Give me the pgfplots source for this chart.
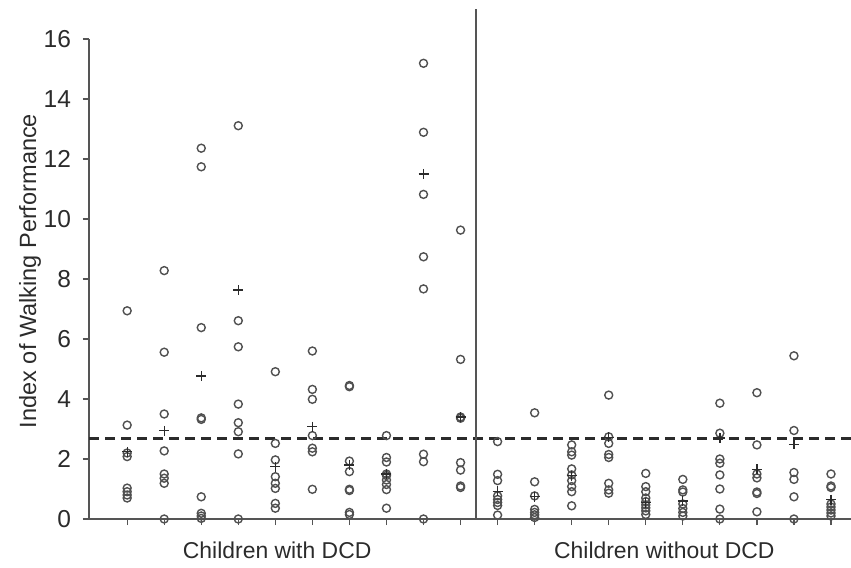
\documentclass[border=0pt]{standalone}
\usepackage{pgfplots}
\pgfplotsset{compat=1.18}
\usepackage{fontspec}
\setmainfont{Liberation Sans}
\definecolor{txt}{HTML}{2B2B2B}
\definecolor{axc}{HTML}{555555}
\definecolor{mk}{HTML}{505050}
\newcommand{\lblfont}{\fontsize{11.5}{13}\selectfont}
\newcommand{\tickfont}{\fontsize{12.3}{14}\selectfont}
\begin{document}
\begin{tikzpicture}
\begin{axis}[name=ax, scale only axis, width=381bp, height=240bp,
  xmin=-0.03, xmax=20.54, ymin=0, ymax=16,
  axis lines=left, axis line style={axc, line width=1bp, -},
  clip=false,
  xtick={1,...,20}, xticklabels={},
  ytick={0,2,...,16},
  tick align=outside, major tick length=3bp,
  tick style={axc, line width=0.6bp},
  yticklabel style={font=\tickfont, text=txt, xshift=-2.5bp},
  /pgf/number format/assume math mode=true,
  ylabel={Index of Walking Performance},
  ylabel style={font=\fontsize{11.8}{13}\selectfont, text=txt, at={(rel axis cs:0,0.5)}, anchor=center, yshift=29.5bp, xshift=4bp},
]
% dashed reference line
\addplot[txt, line width=1.5bp, dash pattern=on 5bp off 3bp, forget plot] coordinates {(-0.03,2.7) (20.54,2.7)};
% divider
\addplot[axc, line width=1bp, forget plot] coordinates {(10.43,0) (10.43,17)};
% individual values
\addplot[only marks, mark=o, mark size=2bp, mark options={mk, line width=0.7bp}] coordinates {
(1,6.94) (1,3.13) (1,2.2) (1,2.08) (1,1.03) (1,0.91) (1,0.8) (1,0.7)
(2,8.28) (2,5.56) (2,3.5) (2,2.27) (2,1.5) (2,1.36) (2,1.19) (2,0)
(3,12.36) (3,11.74) (3,6.38) (3,3.37) (3,3.32) (3,0.74) (3,0.19) (3,0.1) (3,0.02)
(4,13.11) (4,6.61) (4,5.74) (4,3.83) (4,3.21) (4,2.91) (4,2.17) (4,0)
(5,4.91) (5,2.52) (5,1.97) (5,1.41) (5,1.19) (5,1.02) (5,0.52) (5,0.36)
(6,5.6) (6,4.32) (6,3.99) (6,2.78) (6,2.36) (6,2.24) (6,0.99)
(7,4.45) (7,4.41) (7,1.93) (7,1.58) (7,0.99) (7,0.95) (7,0.22) (7,0.15)
(8,2.78) (8,2.05) (8,1.9) (8,1.5) (8,1.45) (8,1.3) (8,1.15) (8,0.98) (8,0.36)
(9,15.19) (9,12.89) (9,10.82) (9,8.74) (9,7.67) (9,2.16) (9,1.91) (9,0)
(10,9.63) (10,5.32) (10,3.4) (10,3.36) (10,1.88) (10,1.63) (10,1.1) (10,1.05)
(11,2.58) (11,1.49) (11,1.28) (11,0.77) (11,0.65) (11,0.55) (11,0.45) (11,0.13)
(12,3.54) (12,1.24) (12,0.77) (12,0.32) (12,0.22) (12,0.14) (12,0.05)
(13,2.47) (13,2.24) (13,2.13) (13,1.67) (13,1.47) (13,1.28) (13,1.08) (13,0.91) (13,0.44)
(14,4.13) (14,2.74) (14,2.52) (14,2.15) (14,2.05) (14,1.19) (14,0.97) (14,0.86)
(15,1.52) (15,1.08) (15,0.91) (15,0.7) (15,0.58) (15,0.47) (15,0.37) (15,0.27) (15,0.15)
(16,1.32) (16,0.97) (16,0.9) (16,0.5) (16,0.35) (16,0.22) (16,0.1)
(17,3.86) (17,2.86) (17,2.0) (17,1.86) (17,1.47) (17,1.0) (17,0.33) (17,0)
(18,4.21) (18,2.47) (18,1.5) (18,1.37) (18,0.9) (18,0.85) (18,0.24)
(19,5.44) (19,2.95) (19,1.55) (19,1.32) (19,0.74) (19,0)
(20,1.5) (20,1.1) (20,1.05) (20,0.5) (20,0.4) (20,0.3) (20,0.2) (20,0.1)
};
% means
\addplot[only marks, mark=+, mark size=2.5bp, mark options={txt, line width=0.65bp}] coordinates {
(1,2.24) (2,2.94) (3,4.77) (4,7.63) (5,1.74) (6,3.08) (7,1.8) (8,1.5) (9,11.5) (10,3.4)
(11,0.92) (12,0.75) (13,1.45) (14,2.72) (15,0.55) (16,0.6) (17,2.7) (18,1.66) (19,2.49) (20,0.65)
};
\node[font=\lblfont, text=txt, anchor=base, yshift=-19.5bp] at (axis cs:5.05,0) {Children with DCD};
\node[font=\lblfont, text=txt, anchor=base, yshift=-19.5bp] at (axis cs:15.5,0) {Children without DCD};
\end{axis}
\pgfresetboundingbox
\path[use as bounding box] ([shift={(-44.5bp,-24.5bp)}]ax.south west) rectangle ([shift={(0bp,259.5bp)}]ax.south east);
\end{tikzpicture}
\end{document}
